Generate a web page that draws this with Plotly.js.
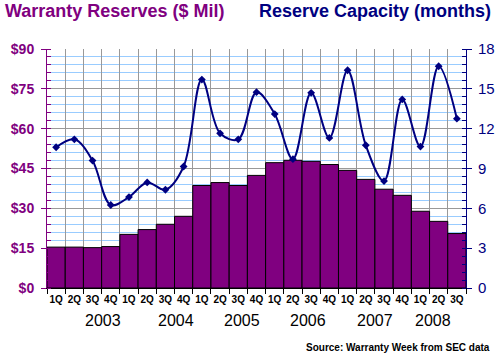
<!DOCTYPE html>
<html>
<head>
<meta charset="utf-8">
<script src="https://cdn.plot.ly/plotly-3.0.1.min.js"></script>
<style>html,body{margin:0;padding:0;background:#fff;}#chart{width:500px;height:360px;}</style>
</head>
<body>
<div id="chart"></div>
<script>
// Data
var quarters = ["1Q","2Q","3Q","4Q","1Q","2Q","3Q","4Q","1Q","2Q","3Q","4Q","1Q","2Q","3Q","4Q","1Q","2Q","3Q","4Q","1Q","2Q","3Q"];
var years = ["2003","2004","2005","2006","2007","2008"];
var yearLabelPos = [2.6, 6.6, 10.2, 13.8, 17.5, 20.7];
var reserves = [15.4, 15.4, 15.2, 15.6, 20.2, 22.0, 24.0, 27.0, 38.6, 39.7, 38.6, 42.4, 47.2, 48.1, 47.7, 46.5, 44.3, 40.9, 37.2, 34.9, 28.9, 25.1, 20.5];
var capacity = [10.6, 11.2, 9.6, 6.25, 6.85, 7.95, 7.4, 9.15, 15.7, 11.65, 11.2, 14.75, 13.1, 9.7, 14.7, 11.3, 16.4, 10.75, 8.05, 14.2, 10.65, 16.7, 12.75];

var idx = quarters.map(function(_, i){ return i; });
var bounds = quarters.map(function(_, i){ return i - 0.5; }).concat([quarters.length - 0.5]);

var purple = '#800080', navy = '#000080';
var font = 'Liberation Sans, Arial, sans-serif';

var traces = [
  {type:'bar', x: idx, y: reserves, xaxis:'x', yaxis:'y',
   marker:{color: purple, line:{color:'#000', width:1}}, hoverinfo:'none'},
  {type:'scatter', mode:'lines+markers', x: idx, y: capacity, xaxis:'x2', yaxis:'y2',
   line:{color: navy, width:2, shape:'spline', smoothing:1},
   marker:{symbol:'diamond', size:6, color: navy}, hoverinfo:'none'}
];

var ann = years.map(function(y, i){
  return {text: y, x: yearLabelPos[i], xref:'x', y: -0.138, yref:'paper', showarrow:false,
          font:{family: font, size:16, color:'#000'}, xanchor:'center', yanchor:'middle'};
});
ann.push({text:'<b>Warranty Reserves ($ Mil)</b>', xref:'paper', yref:'paper', x:-0.105, y:1.16,
          xanchor:'left', yanchor:'middle', showarrow:false, font:{family: font, size:18, color: purple}});
ann.push({text:'<b>Reserve Capacity (months)</b>', xref:'paper', yref:'paper', x:1.064, y:1.16,
          xanchor:'right', yanchor:'middle', showarrow:false, font:{family: font, size:18, color: navy}});
ann.push({text:'<b>Source: Warranty Week from SEC data</b>', xref:'paper', yref:'paper', x:1.062, y:-0.251,
          xanchor:'right', yanchor:'middle', showarrow:false, font:{family: font, size:10, color:'#000'}});

var layout = {
  width:500, height:360,
  margin:{l:47, r:34, t:49, b:72},
  paper_bgcolor:'#fff', plot_bgcolor:'#fff',
  showlegend:false, bargap:0,
  xaxis:{range:[-0.5, quarters.length - 0.5], tickmode:'array', tickvals: bounds, showticklabels:false,
         showgrid:true, gridcolor:'#999', gridwidth:1, ticks:'outside', ticklen:5, tickcolor:'#000',
         showline:true, linecolor:'#000', linewidth:1, zeroline:false, fixedrange:true},
  xaxis2:{overlaying:'x', anchor:'y2', side:'bottom', range:[-0.5, quarters.length - 0.5], tickmode:'array',
          tickvals: idx, ticktext: quarters, showgrid:false, ticks:'', zeroline:false,
          tickfont:{family: font, size:10, color:'#000', weight:'bold'}, ticklabelstandoff:4},
  yaxis:{range:[0,90], dtick:15, tickprefix:'$', showgrid:true, gridcolor:'#999', gridwidth:1,
         ticks:'outside', ticklen:5, tickcolor: purple, showline:true, linecolor: purple, linewidth:1,
         zeroline:false, tickfont:{family: font, size:14, color: purple, weight:'bold'}, ticklabelstandoff:4,
         minor:{dtick:3, showgrid:true, gridcolor:'#99ccff', gridwidth:1, ticks:'inside', ticklen:4, tickcolor: purple}},
  yaxis2:{overlaying:'y', side:'right', range:[0,18], dtick:3, showgrid:false, zeroline:false,
          ticks:'outside', ticklen:5, tickcolor: navy, showline:true, linecolor: navy, linewidth:1,
          tickfont:{family: font, size:15, color: navy}, ticklabelstandoff:3,
          minor:{dtick:0.6, ticks:'inside', ticklen:4, tickcolor: navy, showgrid:false}},
  annotations: ann
};

Plotly.newPlot('chart', traces, layout, {displayModeBar:false, staticPlot:true});
</script>
</body>
</html>
